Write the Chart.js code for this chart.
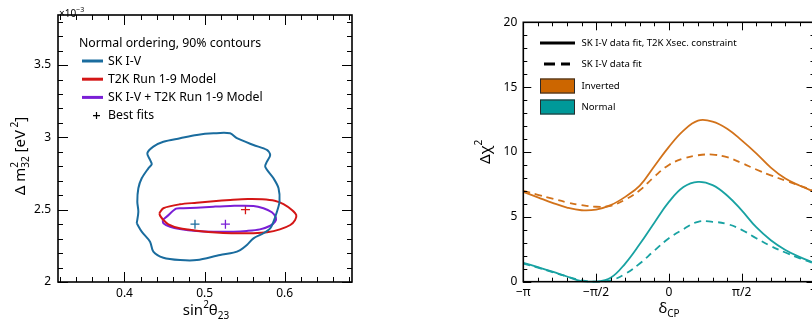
<!DOCTYPE html>
<html>
<head>
<meta charset="utf-8">
<script src="https://cdn.jsdelivr.net/npm/chart.js@4.4.1/dist/chart.umd.min.js"></script>
<style>
    html, body { margin: 0; padding: 0; background: #fff; overflow: hidden; }
    #wrap { position: relative; width: 812px; height: 323px; overflow: hidden; }
    #left { position: absolute; left: 0; top: 0; }
    #right { position: absolute; left: 400px; top: 0; }
</style>
</head>
<body>
<div id="wrap">
    <canvas id="left" width="400" height="323"></canvas>
    <canvas id="right" width="430" height="323"></canvas>
</div>
<script>
// ---- left panel: 90% contours (sin^2 theta23, dm2_32 in 1e-3 eV^2)
const skS = [0.4153, 0.4173, 0.416, 0.4173, 0.4215, 0.4298, 0.434, 0.4319, 0.4285, 0.436, 0.4485, 0.4694, 0.4903, 0.511, 0.5319, 0.5403, 0.561, 0.5778, 0.5819, 0.5778, 0.5756, 0.586, 0.5923, 0.5935, 0.5903, 0.586, 0.5819, 0.5735, 0.561, 0.5528, 0.5444, 0.536, 0.5194, 0.4903, 0.4694, 0.4485, 0.436, 0.4319, 0.4215];
const skM = [2.406, 2.486, 2.555, 2.648, 2.717, 2.786, 2.814, 2.844, 2.89, 2.936, 2.970, 2.994, 3.017, 3.028, 3.028, 2.994, 2.947, 2.913, 2.878, 2.832, 2.797, 2.717, 2.648, 2.555, 2.486, 2.417, 2.371, 2.337, 2.302, 2.256, 2.221, 2.203, 2.187, 2.152, 2.152, 2.168, 2.21, 2.279, 2.348];

const t2kS = [0.4435, 0.4485, 0.469, 0.49, 0.511, 0.532, 0.554, 0.572, 0.5875, 0.5985, 0.609, 0.6144, 0.613, 0.607, 0.594, 0.578, 0.561, 0.540, 0.519, 0.49, 0.469, 0.4548, 0.4485, 0.4444];
const t2kM = [2.475, 2.51, 2.537, 2.548, 2.558, 2.567, 2.574, 2.572, 2.562, 2.539, 2.498, 2.463, 2.429, 2.394, 2.364, 2.344, 2.337, 2.337, 2.341, 2.355, 2.371, 2.399, 2.429, 2.459];

const combS = [0.4477, 0.4527, 0.4644, 0.4735, 0.49, 0.511, 0.532, 0.561, 0.5735, 0.584, 0.589, 0.588, 0.582, 0.569, 0.5528, 0.536, 0.511, 0.49, 0.469, 0.457, 0.4485];
const combM = [2.429, 2.452, 2.507, 2.51, 2.514, 2.521, 2.526, 2.526, 2.51, 2.482, 2.445, 2.417, 2.389, 2.364, 2.353, 2.348, 2.348, 2.353, 2.367, 2.382, 2.406];

const bestS = [0.488, 0.551, 0.526];
const bestM = [2.40, 2.50, 2.40];

const contourNames = ['SK I-V', 'T2K Run 1-9 Model', 'SK I-V + T2K Run 1-9 Model'];
const contourColors = ['#1a6c9e', '#d41616', '#7a1fd6'];
const leftXTicks = [0.4, 0.5, 0.6];
const leftYTicks = [2, 2.5, 3, 3.5];

// ---- right panel: delta chi^2 vs delta_CP (delta in units of pi)
const deltaCP = [-1.0, -0.9, -0.8, -0.7, -0.6, -0.5, -0.4, -0.3, -0.2, -0.1, 0.0, 0.1, 0.2, 0.3, 0.4, 0.5, 0.6, 0.7, 0.8, 0.9, 1.0];
const invConstr = [6.92, 6.5, 6.08, 5.72, 5.51, 5.56, 5.9, 6.54, 7.4, 8.9, 10.4, 11.65, 12.42, 12.35, 11.8, 10.9, 9.9, 8.8, 7.95, 7.4, 6.92];
const invFree   = [7.0, 6.7, 6.4, 6.12, 5.9, 5.78, 5.85, 6.33, 7.05, 8.1, 9.0, 9.5, 9.75, 9.8, 9.6, 9.15, 8.65, 8.2, 7.8, 7.4, 7.0];
const normConstr = [1.46, 1.12, 0.77, 0.4, 0.05, 0.0, 0.3, 1.4, 2.9, 4.55, 6.15, 7.3, 7.7, 7.45, 6.65, 5.5, 4.2, 3.2, 2.45, 1.9, 1.46];
const normFree   = [1.4, 1.08, 0.74, 0.4, 0.1, 0.0, 0.1, 0.6, 1.4, 2.4, 3.35, 4.05, 4.62, 4.62, 4.45, 4.0, 3.35, 2.75, 2.25, 1.8, 1.4];

const rightXTicks = [-1, -0.5, 0, 0.5, 1];
const rightXLabels = ['\u2212\u03c0', '\u2212\u03c0/2', '0', '\u03c0/2', '\u03c0'];
const rightYTicks = [0, 5, 10, 15, 20];
const fitNames = ['SK I-V data fit, T2K Xsec. constraint', 'SK I-V data fit'];
const orderNames = ['Inverted', 'Normal'];
const orangeLine = '#d2721a', orangeFill = '#cc6600';
const tealLine = '#18a2a2', tealFill = '#009999';

const FONT = '"Noto Sans", sans-serif';
Chart.defaults.font.family = FONT;
Chart.defaults.color = '#000';
Chart.defaults.animation = false;

function steps(min, max, step) {
    const out = [];
    for (let v = min; v <= max + step * 1e-6; v += step) out.push(v);
    return out;
}

function richText(ctx, parts, x, y, align) {
    let cx = 0, hold = 0;
    parts.forEach(p => {
        ctx.font = `${p.size}px ${FONT}`;
        p.w = ctx.measureText(p.t).width;
        p.x = cx;
        if (p.keep) { hold = p.w; } else { cx += Math.max(p.w, hold); hold = 0; }
    });
    const x0 = align === 'center' ? x - cx / 2 : x;
    ctx.textAlign = 'left';
    ctx.textBaseline = 'alphabetic';
    parts.forEach(p => {
        ctx.font = `${p.size}px ${FONT}`;
        ctx.fillText(p.t, x0 + p.x, y + (p.dy || 0));
    });
}

// ROOT-like frame with inward ticks on all four sides
const rootFrame = {
    id: 'rootFrame',
    afterDatasetsDraw(chart, args, o) {
        const { ctx, chartArea: a, scales: { x, y } } = chart;
        ctx.save();
        ctx.strokeStyle = '#000';
        ctx.lineWidth = 1;
        const seg = (x1, y1, x2, y2) => { ctx.beginPath(); ctx.moveTo(x1, y1); ctx.lineTo(x2, y2); ctx.stroke(); };
        const xt = (vals, len) => vals.forEach(v => {
            const p = Math.round(x.getPixelForValue(v)) + 0.5;
            seg(p, a.bottom, p, a.bottom - len); seg(p, a.top, p, a.top + len);
        });
        const yt = (vals, len) => vals.forEach(v => {
            const p = Math.round(y.getPixelForValue(v)) + 0.5;
            seg(a.left, p, a.left + len, p); seg(a.right, p, a.right - len, p);
        });
        xt(o.xMinor, o.minor); xt(o.xMajor, o.major);
        yt(o.yMinor, o.minor); yt(o.yMajor, o.major);
        ctx.lineWidth = 1.6;
        ctx.strokeRect(a.left, a.top, a.right - a.left, a.bottom - a.top);
        ctx.restore();
    }
};

function contour(xs, ys, color) {
    const pts = xs.map((v, i) => ({ x: v, y: ys[i] }));
    pts.push(pts[0]);
    return { data: pts, showLine: true, borderColor: color, borderWidth: 2, pointRadius: 0, tension: 0.3 };
}

const leftDecor = {
    id: 'leftDecor',
    afterDraw(chart) {
        const ctx = chart.ctx;
        ctx.save();
        ctx.fillStyle = '#000';
        ctx.textBaseline = 'middle';
        ctx.textAlign = 'left';
        ctx.font = `12.3px ${FONT}`;
        ctx.fillText('Normal ordering, 90% contours', 79, 43);
        contourNames.forEach((name, i) => {
            const yy = 61 + i * 18.2;
            ctx.strokeStyle = contourColors[i];
            ctx.lineWidth = 3;
            ctx.beginPath(); ctx.moveTo(82, yy); ctx.lineTo(103, yy); ctx.stroke();
            ctx.fillText(name, 108, yy);
        });
        const yb = 61 + 3 * 18.2;
        ctx.strokeStyle = '#000'; ctx.lineWidth = 1.2;
        ctx.beginPath(); ctx.moveTo(93, yb); ctx.lineTo(100, yb); ctx.moveTo(96.5, yb - 3.5); ctx.lineTo(96.5, yb + 3.5); ctx.stroke();
        ctx.fillText('Best fits', 108, yb);
        // axis titles
        richText(ctx, [{ t: 'sin', size: 15 }, { t: '2', size: 10, dy: -7 }, { t: '\u03b8', size: 15 }, { t: '23', size: 10, dy: 4 }], 206, 315, 'center');
        richText(ctx, [{ t: '\u00d710', size: 10 }, { t: '\u22123', size: 7, dy: -5 }], 59, 17, 'left');
        ctx.translate(25, 156);
        ctx.rotate(-Math.PI / 2);
        richText(ctx, [{ t: '\u0394 m', size: 15 }, { t: '2', size: 10, dy: -7, keep: true }, { t: '32', size: 10, dy: 4 },
            { t: ' [eV', size: 15 }, { t: ' 2', size: 10, dy: -7 }, { t: ']', size: 15 }], 0, 0, 'center');
        ctx.restore();
    }
};

new Chart(document.getElementById('left'), {
    type: 'scatter',
    data: {
        datasets: [
            contour(skS, skM, contourColors[0]),
            contour(t2kS, t2kM, contourColors[1]),
            contour(combS, combM, contourColors[2]),
            {
                data: bestS.map((v, i) => ({ x: v, y: bestM[i] })),
                pointStyle: 'cross', pointRadius: 4.5, pointBorderWidth: 1.3,
                pointBorderColor: contourColors, showLine: false
            }
        ]
    },
    options: {
        responsive: false,
        animation: false,
        layout: { padding: { top: 15, right: 48, left: 0, bottom: 0 } },
        plugins: {
            legend: { display: false },
            tooltip: { enabled: false },
            rootFrame: { xMajor: leftXTicks, xMinor: steps(0.32, 0.68, 0.02), yMajor: leftYTicks, yMinor: steps(2, 3.8, 0.1), major: 10, minor: 5 }
        },
        scales: {
            x: {
                type: 'linear', min: 0.317, max: 0.684,
                afterFit(s) { s.height = 41; },
                afterBuildTicks(s) { s.ticks = leftXTicks.map(v => ({ value: v })); },
                grid: { display: false, drawTicks: false }, border: { display: false },
                ticks: { font: { size: 12 }, padding: 4, autoSkip: false, maxRotation: 0, callback: v => String(v) }
            },
            y: {
                type: 'linear', min: 2, max: 3.846,
                afterFit(s) { s.width = 58; },
                afterBuildTicks(s) { s.ticks = leftYTicks.map(v => ({ value: v })); },
                grid: { display: false, drawTicks: false }, border: { display: false },
                ticks: { font: { size: 12 }, padding: 7, autoSkip: false, callback: v => String(v) }
            }
        }
    },
    plugins: [rootFrame, leftDecor]
});

// ---- right panel
function curve(vals, color, dashed) {
    return {
        data: deltaCP.map((d, i) => ({ x: d * Math.PI, y: vals[i] })),
        showLine: true, borderColor: color, borderWidth: 1.8, pointRadius: 0,
        borderDash: dashed ? [7, 5] : [], tension: 0.4, clip: 3
    };
}

const rightDecor = {
    id: 'rightDecor',
    afterDraw(chart) {
        const ctx = chart.ctx;
        ctx.save();
        ctx.fillStyle = '#000';
        ctx.textAlign = 'left';
        ctx.textBaseline = 'middle';
        ctx.font = `9.6px ${FONT}`;
        ctx.strokeStyle = '#000';
        ctx.lineWidth = 3;
        ctx.beginPath(); ctx.moveTo(140, 43); ctx.lineTo(175, 43); ctx.stroke();
        ctx.fillText(fitNames[0], 181.5, 43.5);
        ctx.setLineDash([11, 6]);
        ctx.beginPath(); ctx.moveTo(144, 64); ctx.lineTo(170, 64); ctx.stroke();
        ctx.setLineDash([]);
        ctx.fillText(fitNames[1], 181.5, 64.5);
        [orangeFill, tealFill].forEach((c, i) => {
            const yy = 78.5 + i * 21;
            ctx.fillStyle = c;
            ctx.fillRect(140, yy, 35, 15);
            ctx.strokeStyle = '#2a2a2a'; ctx.lineWidth = 1;
            ctx.strokeRect(140.5, yy + 0.5, 34, 14);
            ctx.fillStyle = '#000';
            ctx.fillText(orderNames[i], 181.5, yy + 8);
        });
        richText(ctx, [{ t: '\u03b4', size: 15 }, { t: 'CP', size: 10, dy: 4 }], 269, 313, 'center');
        ctx.translate(90, 152);
        ctx.rotate(-Math.PI / 2);
        richText(ctx, [{ t: '\u0394\u03c7', size: 15 }, { t: '2', size: 10, dy: -8 }], 0, 0, 'center');
        ctx.restore();
    }
};

new Chart(document.getElementById('right'), {
    type: 'scatter',
    data: {
        datasets: [
            curve(invFree, orangeLine, true),
            curve(normFree, tealLine, true),
            curve(invConstr, orangeLine, false),
            curve(normConstr, tealLine, false)
        ]
    },
    options: {
        responsive: false,
        animation: false,
        layout: { padding: { top: 22.3, right: 15.5, left: 0, bottom: 0 } },
        plugins: {
            legend: { display: false },
            tooltip: { enabled: false },
            rootFrame: {
                xMajor: rightXTicks.map(v => v * Math.PI), xMinor: deltaCP.map(v => v * Math.PI),
                yMajor: rightYTicks, yMinor: steps(0, 20, 1), major: 8, minor: 4
            }
        },
        scales: {
            x: {
                type: 'linear', min: -Math.PI, max: Math.PI,
                afterFit(s) { s.height = 41.3; },
                afterBuildTicks(s) { s.ticks = rightXTicks.map(v => ({ value: v * Math.PI })); },
                grid: { display: false, drawTicks: false }, border: { display: false },
                ticks: { font: { size: 12 }, padding: 4, autoSkip: false, maxRotation: 0, callback: (v, i) => rightXLabels[i] }
            },
            y: {
                type: 'linear', min: 0, max: 20,
                afterFit(s) { s.width = 123.3; },
                afterBuildTicks(s) { s.ticks = rightYTicks.map(v => ({ value: v })); },
                grid: { display: false, drawTicks: false }, border: { display: false },
                ticks: { font: { size: 12 }, padding: 6, autoSkip: false, callback: v => String(v) }
            }
        }
    },
    plugins: [rootFrame, rightDecor]
});
</script>
</body>
</html>
